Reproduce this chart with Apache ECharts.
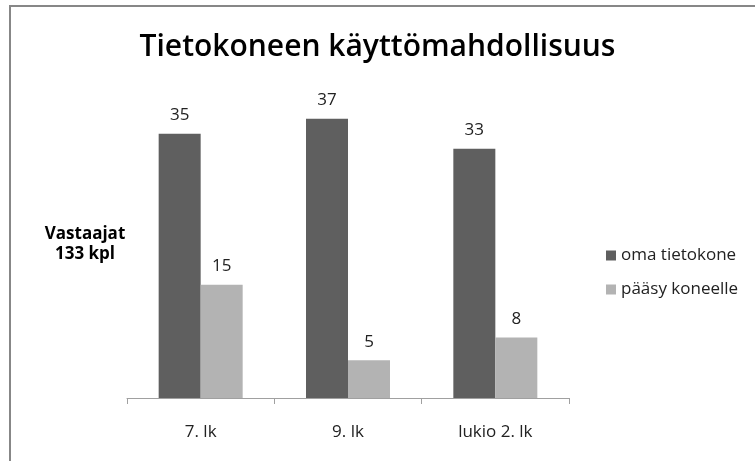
<!DOCTYPE html>
<html>
<head>
<meta charset="utf-8">
<script src="https://cdn.jsdelivr.net/npm/echarts@6/dist/echarts.min.js"></script>
<style>
html, body { margin: 0; padding: 0; background: #fff; }
#main { width: 755px; height: 461px; }
</style>
</head>
<body>
<div id="main"></div>
<script>
// luokat ja arvot
var categories = ['7. lk', '9. lk', 'lukio 2. lk'];
var omaTietokone = [35, 37, 33];
var paasyKoneelle = [15, 5, 8];
var seriesNames = ['oma tietokone', 'pääsy koneelle'];
var fontName = '"Open Sans", sans-serif';

var myChart = echarts.init(document.getElementById('main'));

var option = {
    backgroundColor: '#fff',
    animation: false,
    title: {
        text: 'Tietokoneen käyttömahdollisuus',
        left: 'center',
        top: 27,
        textStyle: {
            fontFamily: fontName,
            fontSize: 30,
            fontWeight: 600,
            color: '#000'
        }
    },
    legend: {
        orient: 'vertical',
        left: 601,
        top: 242,
        itemWidth: 10,
        itemHeight: 10,
        itemGap: 17,
        icon: 'rect',
        data: seriesNames,
        textStyle: {
            fontFamily: fontName,
            fontSize: 17,
            color: '#222'
        }
    },
    grid: {
        left: 127,
        right: 186,
        top: 96,
        bottom: 63
    },
    xAxis: {
        type: 'category',
        data: categories,
        axisLine: { lineStyle: { color: '#a0a0a0', width: 1 } },
        axisTick: { show: true, length: 6, lineStyle: { color: '#a0a0a0' } },
        axisLabel: {
            margin: 26,
            fontFamily: fontName,
            fontSize: 17,
            color: '#222'
        }
    },
    yAxis: {
        type: 'value',
        min: 0,
        max: 40,
        show: false,
        splitLine: { show: false }
    },
    series: [
        {
            name: seriesNames[0],
            type: 'bar',
            data: omaTietokone,
            barWidth: 42,
            barGap: '0%',
            itemStyle: { color: '#5f5f5f' },
            label: {
                show: true,
                position: 'top',
                distance: 10,
                fontFamily: fontName,
                fontSize: 17,
                color: '#222'
            }
        },
        {
            name: seriesNames[1],
            type: 'bar',
            data: paasyKoneelle,
            barWidth: 42,
            itemStyle: { color: '#b3b3b3' },
            label: {
                show: true,
                position: 'top',
                distance: 10,
                fontFamily: fontName,
                fontSize: 17,
                color: '#222'
            }
        }
    ],
    graphic: [
        {
            type: 'line',
            shape: { x1: 9, y1: 6, x2: 755, y2: 6 },
            style: { stroke: '#878787', lineWidth: 2 }
        },
        {
            type: 'line',
            shape: { x1: 10, y1: 5, x2: 10, y2: 461 },
            style: { stroke: '#878787', lineWidth: 2 }
        },
        {
            type: 'text',
            x: 85,
            y: 224,
            style: {
                text: 'Vastaajat\n133 kpl',
                align: 'center',
                font: 'bold 17px "Open Sans", sans-serif',
                lineHeight: 20,
                fill: '#000'
            }
        }
    ]
};

myChart.setOption(option);
</script>
</body>
</html>
